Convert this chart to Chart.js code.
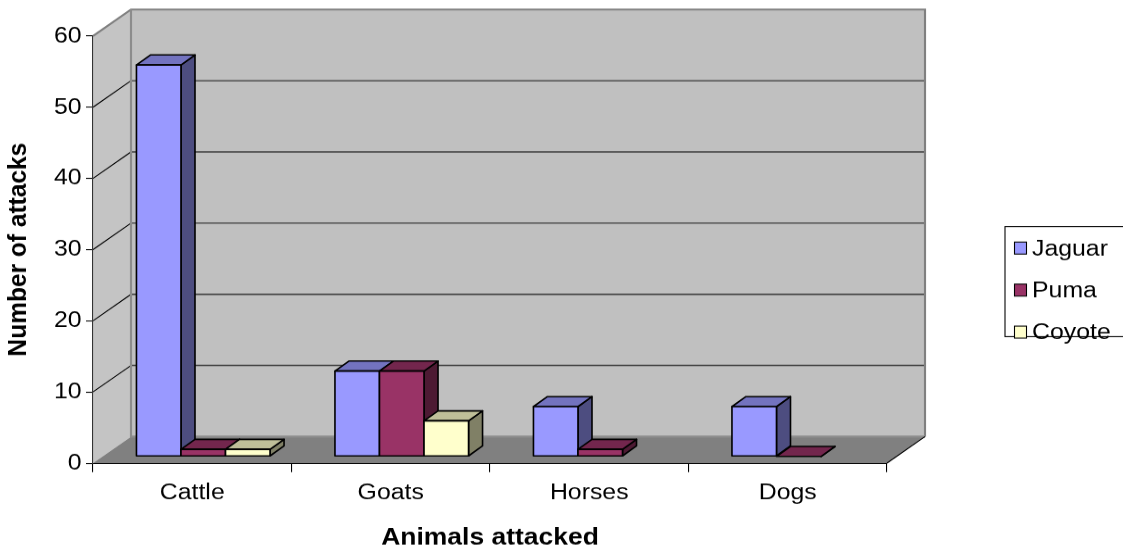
<!DOCTYPE html>
<html><head><meta charset="UTF-8">
<title>Animals attacked</title>
<script src="https://cdn.jsdelivr.net/npm/chart.js@4.4.1/dist/chart.umd.min.js"></script>
<style>
  body { margin: 0; background: #fff; }
</style>
</head>
<body>
<!-- drawn on a slightly narrower canvas and stretched sideways, so the lettering comes out wide -->
<canvas id="attacks" width="1040" height="552" style="width:1123px;height:552px"></canvas>
<script>
var animals = ['Cattle', 'Goats', 'Horses', 'Dogs'];
var jaguar = [55, 12, 7, 7];
var puma = [1, 12, 1, 0];
var coyote = [1, 5, null, null];
var yTicks = [0, 10, 20, 30, 40, 50, 60];

var S = 1.08;                            // horizontal stretch of the canvas
var DEPTH = {x: 38 / S, y: -26.5};       // depth of floor and side wall
var SHIFT = {x: 11 / S, y: -6.7};        // bars stand a little behind the axis plane
var BOX = {x: 14 / S, y: -10};           // depth of a single bar

var shades = [
  {front: '#9999ff', top: '#7373bf', side: '#4d4d80'},
  {front: '#993366', top: '#73264d', side: '#4d1a33'},
  {front: '#ffffcc', top: '#bfbf99', side: '#808066'}
];

var FONT = "'Liberation Sans', Arial, sans-serif";

function poly(ctx, pts, fill, stroke, lw) {
  ctx.beginPath();
  ctx.moveTo(pts[0][0], pts[0][1]);
  for (var i = 1; i < pts.length; i++) ctx.lineTo(pts[i][0], pts[i][1]);
  ctx.closePath();
  if (fill) { ctx.fillStyle = fill; ctx.fill(); }
  if (stroke) { ctx.strokeStyle = stroke; ctx.lineWidth = lw || 1; ctx.stroke(); }
}

function line(ctx, pts, color, lw) {
  ctx.beginPath();
  ctx.moveTo(pts[0][0], pts[0][1]);
  for (var i = 1; i < pts.length; i++) ctx.lineTo(pts[i][0], pts[i][1]);
  ctx.strokeStyle = color;
  ctx.lineWidth = lw || 1;
  ctx.stroke();
}

var box3d = {
  id: 'box3d',
  beforeDraw: function(chart) {
    var ctx = chart.ctx, a = chart.chartArea, ys = chart.scales.y;
    var L = a.left, R = a.right, T = a.top, B = a.bottom, dx = DEPTH.x, dy = DEPTH.y;
    ctx.save();
    // side wall, back wall, floor
    poly(ctx, [[L, T], [L + dx, T + dy], [L + dx, B + dy], [L, B]], '#c4c4c4');
    poly(ctx, [[L + dx, T + dy], [R + dx, T + dy], [R + dx, B + dy], [L + dx, B + dy]], '#c0c0c0');
    poly(ctx, [[L, B], [L + dx, B + dy], [R + dx, B + dy], [R, B]], '#808080');
    // gridlines run across the side wall and the back wall
    yTicks.forEach(function(v) {
      if (v === 0 || v === 60) return;
      var py = ys.getPixelForValue(v);
      line(ctx, [[L, py], [L + dx, py + dy]], '#000', 1);
      line(ctx, [[L + dx, py + dy], [R + dx, py + dy]], '#3a3a3a', 1.3);
    });
    // wall edges
    line(ctx, [[L, T], [L + dx, T + dy], [R + dx, T + dy], [R + dx, B + dy]], '#808080', 2);
    line(ctx, [[L + dx, T + dy], [L + dx, B + dy], [R + dx, B + dy]], '#8c8c8c', 2);
    line(ctx, [[R, B], [R + dx, B + dy]], '#000', 1);
    ctx.restore();
  },
  beforeDatasetsDraw: function(chart) {
    chart.ctx.save();
    chart.ctx.translate(SHIFT.x, SHIFT.y);
  },
  afterDatasetsDraw: function(chart) {
    var ctx = chart.ctx;
    // redraw every bar as a box, left to right, so neighbours cover side faces
    chart.data.datasets.forEach(function(ds, i) {
      var meta = chart.getDatasetMeta(i), c = shades[i];
      meta.data.forEach(function(el, j) {
        if (ds.data[j] == null) return;
        var x0 = el.x - el.width / 2, x1 = el.x + el.width / 2, top = el.y, base = el.base;
        var bx = BOX.x, by = BOX.y;
        ctx.lineJoin = 'round';
        poly(ctx, [[x1, top], [x1 + bx, top + by], [x1 + bx, base + by], [x1, base]], c.side, '#000', 1.5);
        poly(ctx, [[x0, top], [x0 + bx, top + by], [x1 + bx, top + by], [x1, top]], c.top, '#000', 1.5);
        if (base - top > 0.5) {
          poly(ctx, [[x0, top], [x1, top], [x1, base], [x0, base]], c.front, '#000', 1.5);
        }
      });
    });
    ctx.restore();
  },
  afterDraw: function(chart) {
    // legend box at the right
    var ctx = chart.ctx;
    var lx = 1005 / S, ly = 226.5, rows = [248, 290, 332];
    ctx.save();
    ctx.strokeStyle = '#000';
    ctx.lineWidth = 1;
    ctx.strokeRect(lx, ly, 150, 110);
    ctx.font = '23px ' + FONT;
    ctx.textBaseline = 'middle';
    chart.data.datasets.forEach(function(ds, i) {
      var cy = rows[i];
      ctx.fillStyle = ds.backgroundColor;
      ctx.fillRect(lx + 9.5 / S, cy - 6, 12 / S, 12);
      ctx.strokeRect(lx + 9.5 / S, cy - 6, 12 / S, 12);
      ctx.fillStyle = '#000';
      ctx.fillText(ds.label, lx + 27 / S, cy + 1);
    });
    ctx.restore();
  }
};

new Chart(document.getElementById('attacks'), {
  type: 'bar',
  data: {
    labels: animals,
    datasets: [
      {label: 'Jaguar', data: jaguar, backgroundColor: shades[0].front},
      {label: 'Puma', data: puma, backgroundColor: shades[1].front},
      {label: 'Coyote', data: coyote, backgroundColor: shades[2].front}
    ]
  },
  options: {
    responsive: false,
    devicePixelRatio: S,
    animation: false,
    layout: {padding: {left: 0, right: 1040 - 887 / S, top: 36, bottom: 0}},
    datasets: {bar: {barPercentage: 1, categoryPercentage: 0.673, borderWidth: 1.5, borderColor: '#000'}},
    plugins: {legend: {display: false}, tooltip: {enabled: false}},
    scales: {
      x: {
        offset: true,
        grid: {offset: true, drawOnChartArea: false, tickLength: 9, color: '#000', lineWidth: 1},
        border: {color: '#000', width: 1},
        ticks: {color: '#000', font: {family: FONT, size: 23}, padding: 7, maxRotation: 0},
        title: {display: true, text: 'Animals attacked', color: '#000',
                font: {family: FONT, size: 24.5, weight: 'bold'}, padding: {top: 0, bottom: 0}},
        afterFit: function(s) { s.height = 89; }
      },
      y: {
        min: 0, max: 60,
        grid: {drawOnChartArea: false, tickLength: 7 / S, color: '#000', lineWidth: 1},
        border: {color: '#333', width: 1},
        ticks: {stepSize: 10, color: '#000', font: {family: FONT, size: 23}, padding: 4},
        title: {display: true, text: 'Number of attacks', color: '#000',
                font: {family: FONT, size: 24.5, weight: 'bold'}, padding: {top: 3, bottom: 0}},
        afterFit: function(s) { s.width = 93 / S; }
      }
    }
  },
  plugins: [box3d]
});
</script>
</body></html>
